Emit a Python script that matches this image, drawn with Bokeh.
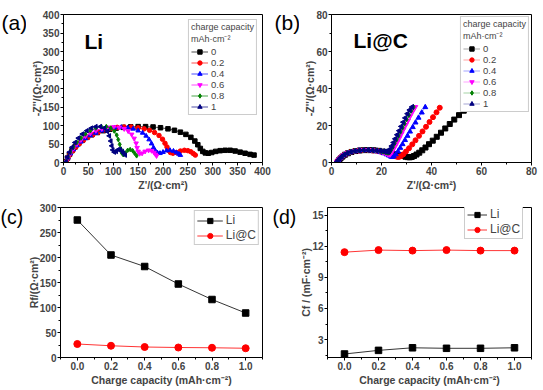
import numpy as np
from bokeh.plotting import figure
from bokeh.layouts import column, row
from bokeh.models import Legend, LegendItem, Label, Range1d, FixedTicker, PrintfTickFormatter
from bokeh.embed import file_html
from bokeh.resources import INLINE

FONT = "Liberation Sans"

# ---------------- data: panel (a) Li Nyquist ----------------
a_labels = ["0", "0.2", "0.4", "0.6", "0.8", "1"]
a0_x = [5, 8, 12, 17, 23, 30, 38, 47, 57, 68, 80, 93, 106, 120, 135, 150, 165, 180, 195, 210, 223, 235, 246, 256, 264, 270, 275, 280, 285, 291, 298, 306, 315, 325, 335, 345, 355, 365, 375, 383]
a0_y = [2, 12, 22, 32, 42, 51, 60, 68, 75, 81, 86, 90, 93, 95, 96.5, 97, 97, 96, 94, 91, 87, 82, 76, 68, 58, 48, 38, 30, 26, 25, 27, 30, 32, 33, 33, 31, 28, 25, 22, 20]
a1_x = [5, 9, 13, 19, 25, 32, 40, 49, 59, 70, 82, 95, 108, 122, 136, 150, 162, 173, 183, 192, 199, 204, 208, 211, 215, 220, 227, 235, 243, 250, 256, 261, 265]
a1_y = [2, 12, 22, 32, 42, 51, 60, 68, 75, 82, 88, 92, 95, 96, 96, 94, 91, 87, 81, 73, 63, 52, 42, 33, 27, 25, 27, 31, 33, 32, 29, 24, 20]
a2_x = [5, 9, 14, 20, 27, 35, 44, 54, 65, 77, 90, 103, 116, 129, 140, 150, 159, 166, 172, 177, 181, 185, 189, 194, 200, 207, 214, 221, 227, 232, 235]
a2_y = [2, 13, 24, 35, 46, 56, 65, 73, 80, 86, 91, 94, 95, 94, 91, 86, 80, 72, 62, 51, 40, 31, 26, 25, 28, 32, 33, 31, 27, 23, 20]
a3_x = [5, 9, 14, 20, 27, 35, 44, 54, 65, 77, 89, 101, 112, 122, 130, 137, 142, 146, 148, 150, 153, 158, 164, 171, 177, 182, 185, 187]
a3_y = [2, 14, 26, 38, 50, 61, 71, 79, 86, 91, 95, 96, 95, 91, 85, 76, 65, 52, 40, 30, 24, 25, 30, 33, 32, 27, 22, 18]
a4_x = [5, 9, 14, 20, 27, 35, 44, 54, 65, 76, 86, 95, 102, 107, 110, 113, 115, 117, 120, 124, 129, 134, 139, 143, 147]
a4_y = [2, 15, 28, 41, 54, 66, 77, 86, 93, 97, 97, 93, 85, 74, 62, 49, 37, 26, 21, 26, 33, 35, 32, 25, 18]
a5_x = [5, 8, 12, 17, 23, 30, 38, 47, 56, 65, 74, 82, 88, 92, 95, 97, 99, 102, 106, 110, 114, 118, 121, 124]
a5_y = [2, 15, 28, 41, 54, 66, 77, 86, 93, 97, 97, 93, 84, 72, 58, 45, 34, 28, 30, 35, 35, 30, 25, 20]

# ---------------- data: panel (b) Li@C Nyquist ----------------
b0_x = [2.5, 3.0, 3.6, 4.4, 5.4, 6.6, 8.0, 9.6, 11.3, 13.1, 15.0, 16.9, 18.8, 20.6, 22.4, 24.1, 25.7, 27.2, 28.5, 29.6, 30.5, 31.3,
        32.1, 33.0, 34.0, 35.1, 36.3, 37.6, 39.0, 40.5, 42.1, 43.8, 45.5, 47.3, 49.1, 51.0, 52.9, 54.8]
b0_y = [0.3, 1.2, 2.2, 3.2, 4.2, 5.0, 5.7, 6.2, 6.5, 6.7, 6.7, 6.6, 6.3, 5.9, 5.5, 5.0, 4.5, 4.0, 3.5, 3.1, 2.9, 2.8,
        3.0, 3.5, 4.3, 5.3, 6.6, 8.1, 9.9, 11.8, 13.9, 16.1, 18.4, 20.8, 23.2, 25.6, 28.0, 30.0]
b1_x = [2.3, 2.8, 3.4, 4.2, 5.2, 6.4, 7.8, 9.4, 11.1, 12.9, 14.8, 16.7, 18.5, 20.2, 21.8, 23.2, 24.4, 25.4, 26.2, 26.9,
        27.7, 28.7, 29.8, 31.0, 32.3, 33.6, 35.0, 36.4, 37.8, 39.2, 40.6, 42.0, 43.3]
b1_y = [0.3, 1.2, 2.2, 3.2, 4.2, 5.0, 5.7, 6.2, 6.5, 6.7, 6.7, 6.5, 6.2, 5.7, 5.1, 4.5, 3.9, 3.4, 3.1, 3.0,
        3.4, 4.4, 5.9, 7.7, 9.8, 12.0, 14.4, 16.8, 19.3, 21.9, 24.5, 27.1, 29.6]
b2_x = [2.2, 2.7, 3.3, 4.1, 5.1, 6.3, 7.7, 9.3, 11.0, 12.8, 14.6, 16.4, 18.1, 19.6, 20.9, 22.0, 22.9, 23.6, 24.2,
        24.9, 25.7, 26.6, 27.5, 28.4, 29.4, 30.4, 31.4, 32.5, 33.6, 34.8, 36.1, 37.5]
b2_y = [0.3, 1.2, 2.2, 3.2, 4.2, 5.0, 5.7, 6.2, 6.5, 6.7, 6.7, 6.5, 6.1, 5.6, 5.0, 4.4, 3.8, 3.3, 3.0,
        3.3, 4.4, 6.0, 7.9, 9.9, 12.1, 14.4, 16.7, 19.1, 21.6, 24.2, 27.0, 29.9]
b3_x = [2.2, 2.7, 3.3, 4.1, 5.1, 6.3, 7.7, 9.3, 11.0, 12.8, 14.6, 16.4, 18.0, 19.4, 20.6, 21.6, 22.4, 23.0,
        23.5, 24.1, 24.8, 25.6, 26.4, 27.2, 28.0, 28.8, 29.7, 30.6, 31.5, 32.5, 33.5]
b3_y = [0.3, 1.2, 2.2, 3.2, 4.2, 5.0, 5.7, 6.2, 6.5, 6.7, 6.7, 6.6, 6.3, 5.9, 5.5, 5.0, 4.6, 4.3,
        4.4, 5.6, 7.2, 9.1, 11.2, 13.4, 15.6, 17.9, 20.3, 22.7, 25.2, 27.7, 30.0]
b4_x = [2.2, 2.7, 3.3, 4.1, 5.1, 6.3, 7.7, 9.3, 11.0, 12.8, 14.6, 16.4, 18.0, 19.4, 20.6, 21.6, 22.3, 22.8,
        23.2, 23.8, 24.5, 25.2, 26.0, 26.8, 27.6, 28.4, 29.2, 30.0, 30.9, 31.8, 32.8]
b4_y = [0.3, 1.2, 2.2, 3.2, 4.2, 5.0, 5.7, 6.2, 6.5, 6.7, 6.7, 6.6, 6.4, 6.1, 5.8, 5.5, 5.3, 5.3,
        5.5, 6.8, 8.4, 10.3, 12.3, 14.4, 16.6, 18.8, 21.0, 23.3, 25.6, 27.9, 30.0]
b5_x = [2.2, 2.7, 3.3, 4.1, 5.1, 6.3, 7.7, 9.3, 11.0, 12.8, 14.6, 16.4, 18.0, 19.4, 20.6, 21.5, 22.1, 22.6,
        23.0, 23.5, 24.1, 24.8, 25.5, 26.3, 27.1, 27.9, 28.7, 29.5, 30.4, 31.3, 32.2]
b5_y = [0.3, 1.2, 2.2, 3.2, 4.2, 5.0, 5.7, 6.2, 6.5, 6.7, 6.7, 6.6, 6.5, 6.3, 6.1, 5.9, 5.8, 5.8,
        6.0, 7.3, 8.9, 10.8, 12.8, 15.0, 17.2, 19.5, 21.8, 24.1, 26.4, 28.4, 30.0]

# ---------------- data: panels (c) and (d) ----------------
cap = [0.0, 0.2, 0.4, 0.6, 0.8, 1.0]
rf_li = [275, 205, 182, 147, 116, 89]
rf_lic = [27, 23.5, 21, 20, 19.5, 18.5]
cf_li = [1.6, 1.95, 2.2, 2.15, 2.15, 2.2]
cf_lic = [11.45, 11.65, 11.6, 11.65, 11.6, 11.6]

colors = ["#000000", "#FF0000", "#0000FF", "#FF00FF", "#008000", "#000080"]
markers = ["square", "circle", "triangle", "inverted_triangle", "diamond", "triangle"]
angles = [0, 0, 0, 0, 0, np.pi / 2]

# row geometry (all figures in a row share top/bottom borders)
TOP1, FH1, BOT1 = 14, 148, 36
TOP2, FH2, BOT2 = 9, 150, 33


def make_fig(fw, fh, left, right, top, bottom, xr, yr):
    p = figure(frame_width=fw, frame_height=fh, x_range=Range1d(*xr), y_range=Range1d(*yr),
               output_backend="svg", toolbar_location=None,
               min_border_left=left, min_border_right=right,
               min_border_top=top, min_border_bottom=bottom)
    p.grid.visible = False
    p.outline_line_color = "black"
    p.outline_line_width = 1
    p.background_fill_color = "white"
    p.border_fill_color = "white"
    for ax in (p.xaxis[0], p.yaxis[0]):
        ax.axis_line_color = "black"
        ax.major_tick_in = 0
        ax.major_tick_out = 3
        ax.minor_tick_in = 0
        ax.minor_tick_out = 2
        ax.major_label_text_font = FONT
        ax.major_label_text_font_style = "bold"
        ax.major_label_text_font_size = "10px"
        ax.major_label_standoff = 1
        ax.axis_label_text_font = FONT
        ax.axis_label_text_font_style = "bold"
        ax.axis_label_text_font_size = "10.5px"
        ax.axis_label_standoff = 1
    p.yaxis[0].axis_label_standoff = -3
    return p


def letter_fig(w, fh, top, bottom, txt, x, y, size):
    f = figure(frame_width=w, frame_height=fh, x_range=Range1d(0, 1), y_range=Range1d(0, 1),
               x_axis_type=None, y_axis_type=None, output_backend="svg",
               toolbar_location=None, min_border_left=0, min_border_right=0,
               min_border_top=top, min_border_bottom=bottom)
    f.outline_line_color = None
    f.grid.visible = False
    f.add_layout(Label(x=x, y=y, x_units="screen", y_units="screen", text=txt,
                       text_font=FONT, text_font_size=size, text_baseline="alphabetic",
                       text_align="left", text_color="black"))
    return f


def nyquist_legend(p, items, margin):
    lg = Legend(items=items, title="charge capacity\nmAh\u00b7cm\u207b\u00b2", location="top_right",
                margin=margin, padding=2, spacing=0, label_height=11, glyph_height=11, glyph_width=17,
                label_standoff=3, label_text_font=FONT, label_text_font_size="9.5px",
                title_text_font=FONT, title_text_font_size="9px", title_text_font_style="normal",
                title_standoff=1, border_line_color="#999999", border_line_width=1,
                background_fill_color="white", background_fill_alpha=1.0)
    p.add_layout(lg)


# ---------------- panel (a) ----------------
pa = make_fig(199, FH1, 37, 10, TOP1, BOT1, (0, 400), (0, 400))
pa.xaxis.ticker = FixedTicker(ticks=list(range(0, 401, 50)), minor_ticks=list(range(25, 400, 50)))
pa.yaxis.ticker = FixedTicker(ticks=list(range(0, 401, 50)), minor_ticks=list(range(25, 400, 50)))
pa.xaxis.axis_label = "Z'/(\u03a9\u00b7cm\u00b2)"
pa.yaxis.axis_label = "-Z''/(\u03a9\u00b7cm\u00b2)"
a_data = [(a0_x, a0_y), (a1_x, a1_y), (a2_x, a2_y), (a3_x, a3_y), (a4_x, a4_y), (a5_x, a5_y)]
items = []
for (xs, ys), c, m, ang, lab in zip(a_data, colors, markers, angles, a_labels):
    ln = pa.line(xs, ys, line_color=c, line_width=0.7)
    sc = pa.scatter(xs, ys, marker=m, angle=ang, size=4.5, fill_color=c, line_color=c)
    items.append(LegendItem(label=lab, renderers=[ln, sc]))
nyquist_legend(pa, items, 5)
pa.add_layout(Label(x=42, y=295, text="Li", text_font=FONT, text_font_size="21px",
                    text_font_style="bold", text_color="black"))

# ---------------- panel (b) ----------------
pb = make_fig(200, FH1, 32, 8, TOP1, BOT1, (0, 80), (0, 80))
pb.xaxis.ticker = FixedTicker(ticks=list(range(0, 81, 20)), minor_ticks=list(range(10, 80, 20)))
pb.yaxis.ticker = FixedTicker(ticks=list(range(0, 81, 20)), minor_ticks=list(range(10, 80, 20)))
pb.xaxis.axis_label = "Z'/(\u03a9\u00b7cm\u00b2)"
pb.yaxis.axis_label = "-Z''/(\u03a9\u00b7cm\u00b2)"
b_data = [(b0_x, b0_y), (b1_x, b1_y), (b2_x, b2_y), (b3_x, b3_y), (b4_x, b4_y), (b5_x, b5_y)]
items = []
for (xs, ys), c, m, ang, lab in zip(b_data, colors, markers, angles, a_labels):
    ln = pb.line(xs, ys, line_color=c, line_width=0.6, line_alpha=0.6)
    sc = pb.scatter(xs, ys, marker=m, angle=ang, size=5, fill_color=c, line_color=c)
    items.append(LegendItem(label=lab, renderers=[ln, sc]))
nyquist_legend(pb, items, 2)
pb.add_layout(Label(x=8.8, y=60, text="Li@C", text_font=FONT, text_font_size="21px",
                    text_font_style="bold", text_color="black"))


def summary_legend(p, items, gw, loc):
    lg = Legend(items=items, location=loc, margin=3, padding=2, spacing=1,
                label_height=13, glyph_height=13, glyph_width=gw, label_standoff=3,
                label_text_font=FONT, label_text_font_size="12px",
                border_line_color="#999999", border_line_width=1,
                background_fill_color="white", background_fill_alpha=1.0)
    p.add_layout(lg)


# ---------------- panel (c) ----------------
pc = make_fig(202, FH2, 36, 10, TOP2, BOT2, (-0.1, 1.1), (0, 300))
pc.xaxis.ticker = FixedTicker(ticks=cap, minor_ticks=[-0.1, 0.1, 0.3, 0.5, 0.7, 0.9, 1.1])
pc.yaxis.ticker = FixedTicker(ticks=list(range(0, 301, 50)), minor_ticks=list(range(25, 300, 50)))
pc.xaxis.formatter = PrintfTickFormatter(format="%.1f")
pc.xaxis.axis_label = "Charge capacity (mAh\u00b7cm\u207b\u00b2)"
pc.yaxis.axis_label = "Rf/(\u03a9\u00b7cm\u00b2)"
l1 = pc.line(cap, rf_li, line_color="black", line_width=0.8)
s1 = pc.scatter(cap, rf_li, marker="square", size=6.5, fill_color="black", line_color="black")
l2 = pc.line(cap, rf_lic, line_color="#FF0000", line_width=0.8)
s2 = pc.scatter(cap, rf_lic, marker="circle", size=7, fill_color="#FF0000", line_color="#FF0000")
summary_legend(pc, [LegendItem(label="Li", renderers=[l1, s1]),
                    LegendItem(label="Li@C", renderers=[l2, s2])], 26, "top_right")

# ---------------- panel (d) ----------------
pd_ = make_fig(204, FH2, 31, 8, TOP2, BOT2, (-0.1, 1.1), (1.26, 15.77))
pd_.xaxis.ticker = FixedTicker(ticks=cap, minor_ticks=[-0.1, 0.1, 0.3, 0.5, 0.7, 0.9, 1.1])
pd_.yaxis.ticker = FixedTicker(ticks=[3, 6, 9, 12, 15], minor_ticks=[1.5, 4.5, 7.5, 10.5, 13.5])
pd_.xaxis.formatter = PrintfTickFormatter(format="%.1f")
pd_.xaxis.axis_label = "Charge capacity (mAh\u00b7cm\u207b\u00b2)"
pd_.yaxis.axis_label = "Cf / (mF\u00b7cm\u207b\u00b2)"
l1 = pd_.line(cap, cf_li, line_color="black", line_width=0.8)
s1 = pd_.scatter(cap, cf_li, marker="square", size=6.5, fill_color="black", line_color="black")
l2 = pd_.line(cap, cf_lic, line_color="#FF0000", line_width=0.8)
s2 = pd_.scatter(cap, cf_lic, marker="circle", size=7, fill_color="#FF0000", line_color="#FF0000")
summary_legend(pd_, [LegendItem(label="Li", renderers=[l1, s1]),
                     LegendItem(label="Li@C", renderers=[l2, s2])], 20, (137, 118))

# ---------------- panel letters (drawn inside their own frames) ----------------
la = letter_fig(26, FH1, TOP1, BOT1, "(a)", 1, FH1 - 8, "21px")
lb = letter_fig(27, FH1, TOP1, BOT1, "(b)", 2, FH1 - 8, "21px")
lc = letter_fig(24, FH2, TOP2, BOT2, "(c)", 0, FH2 - 9, "19.5px")
ld = letter_fig(24, FH2, TOP2, BOT2, "(d)", 0, FH2 - 9, "19.5px")

layout = column(row(la, pa, lb, pb), row(lc, pc, ld, pd_))
open("out.html", "w").write(file_html(layout, INLINE))
